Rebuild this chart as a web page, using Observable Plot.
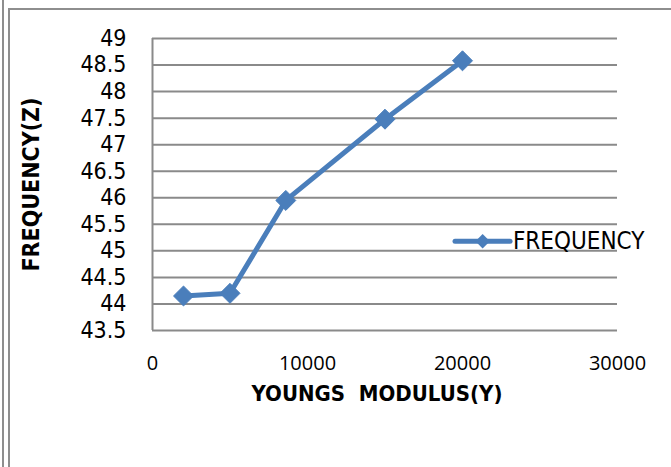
<!DOCTYPE html>
<html><head><meta charset="utf-8">
<script src="https://cdn.jsdelivr.net/npm/d3@7"></script>
<script src="https://cdn.jsdelivr.net/npm/@observablehq/plot@0.6"></script>
<style>
body{margin:0;background:#fff;}
#wrap{position:relative;width:671px;height:467px;overflow:hidden;}
.b1{position:absolute;left:2px;top:0;width:2px;height:467px;background:#8e8e8e;}
.b2{position:absolute;left:8px;top:8px;width:2px;height:459px;background:#8e8e8e;}
.b3{position:absolute;left:8px;top:8px;width:663px;height:2px;background:#8e8e8e;}
#chart{position:absolute;left:0;top:0;}
</style></head><body>
<div id="wrap"><div id="chart"></div><div class="b1"></div><div class="b2"></div><div class="b3"></div></div>
<script>
const modulus = [2000, 5000, 8600, 15000, 20000];
const frequency = [44.15, 44.2, 45.95, 47.48, 48.58];
const seriesName = "FREQUENCY";
const yTicks = [43.5, 44, 44.5, 45, 45.5, 46, 46.5, 47, 47.5, 48, 48.5, 49];
const xTicks = [0, 10000, 20000, 30000];
const xTitle = "YOUNGS  MODULUS(Y)";
const yTitle = "FREQUENCY(Z)";

const data = modulus.map((m, i) => ({x: m, y: frequency[i]}));
const narrow = "'Liberation Sans Narrow','DejaVu Sans Condensed',sans-serif";
const blue = "#4a7ebb";

const chart = Plot.plot({
  width: 671, height: 467,
  marginLeft: 152, marginRight: 54, marginTop: 38, marginBottom: 137,
  style: {fontFamily: narrow, background: "transparent"},
  x: {domain: [0, 30000]},
  y: {domain: [43.5, 49]},
  marks: [
    Plot.ruleY(yTicks, {stroke: "#8a8a8a", strokeWidth: 2}),
    Plot.ruleX([0], {stroke: "#8a8a8a", strokeWidth: 2}),
    Plot.axisY(yTicks, {tickSize: 0, tickPadding: 26, fontSize: 23, fill: "#000", label: null, tickFormat: d => String(d)}),
    Plot.axisX(xTicks, {tickSize: 0, tickPadding: 25, fontSize: 20, fontFamily: "'Open Sans',sans-serif", fill: "#000", label: null, tickFormat: d => String(d)}),
    Plot.text([yTitle], {frameAnchor: "left", textAnchor: "middle", lineAnchor: "middle", dx: -121, rotate: -90, fontSize: 23, fontWeight: "bold", fill: "#000"}),
    Plot.text([xTitle], {frameAnchor: "bottom", textAnchor: "middle", lineAnchor: "middle", dx: -8, dy: 63, fontSize: 22, fontWeight: "bold", fill: "#000"}),
    Plot.line(data, {x: "x", y: "y", stroke: blue, strokeWidth: 5}),
    Plot.dot(data, {x: "x", y: "y", symbol: "diamond2", r: 9, fill: blue, stroke: blue, strokeWidth: 1}),
    Plot.ruleY([seriesName], {y: () => 45.18, x1: 19550, x2: 23100, stroke: blue, strokeWidth: 5, strokeLinecap: "round"}),
    Plot.dot([seriesName], {x: () => 21300, y: () => 45.18, symbol: "diamond2", r: 6.5, fill: blue}),
    Plot.text([seriesName], {x: () => 23250, y: () => 45.18, text: d => d, textAnchor: "start", lineAnchor: "middle", fontSize: 24, fill: "#000"})
  ]
});
document.getElementById("chart").appendChild(chart);
</script>
</body></html>
